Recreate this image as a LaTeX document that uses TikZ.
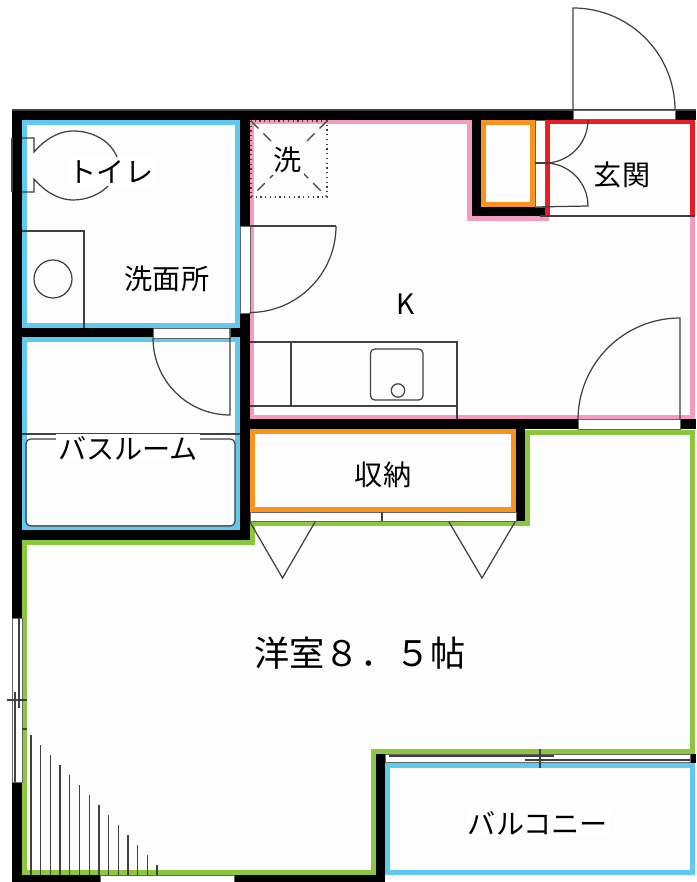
\documentclass[tikz,border=0pt]{standalone}
\usepackage{fontspec}
\setmainfont{Noto Sans CJK JP}
\definecolor{bathblue}{HTML}{62C9EE}
\definecolor{kitpink}{HTML}{F29DC0}
\definecolor{storeorange}{HTML}{F7941E}
\definecolor{entryred}{HTML}{ED1C24}
\definecolor{roomgreen}{HTML}{8CC63F}
\definecolor{floorwhite}{HTML}{FDFDFD}
\tikzset{
	wall/.style={fill=black},
	rim/.style={line width=1.35pt, miter limit=10},
	thinline/.style={draw=black!75, line width=.35pt},
	gap/.style={fill=white, draw=black!60, line width=.25pt},
	roomlabel/.style={font=\fontsize{8}{9}\selectfont, inner sep=.6pt},
	masklabel/.style={roomlabel, fill=white},
}
\begin{document}
\begin{tikzpicture}[x=.01cm, y=-.01cm]
		\useasboundingbox (0,0) rectangle (696,882);
		
		%floors
		\fill[floorwhite] (22,120) rectangle (696,875);
		
		%walls
		\fill[wall] (12,110) rectangle (696,120);
		\fill[wall] (12,110) rectangle (22,882);
		\fill[wall] (240,120) rectangle (250,540);
		\fill[wall] (22,328) rectangle (240,338);
		\fill[wall] (22,530) rectangle (250,540);
		\fill[wall] (250,419) rectangle (696,429);
		\fill[wall] (472,120) rectangle (481,216);
		\fill[wall] (472,207) rectangle (545,216);
		\fill[wall] (516,429) rectangle (525,521);
		\fill[wall] (376,754) rectangle (385,882);
		\fill[wall] (12,875) rectangle (385,882);
		\fill[wall] (690,754) rectangle (696,763);
		\draw[thinline] (12,110) -- (696,110);
		\draw[thinline] (12,138) -- (12,192);
		
		%room rims
		\draw[rim, kitpink] (692.5,216) -- (692.5,417) -- (252,417) -- (252,122) -- (469.5,122) -- (469.5,218.5) -- (549,218.5);
		\draw[rim, bathblue] (24.2,122.2) rectangle (237.8,325.8);
		\draw[rim, bathblue] (24.2,339.5) rectangle (237.8,527.8);
		\draw[rim, bathblue] (387.2,765.2) rectangle (692.8,872.5);
		\draw[rim, storeorange] (483.2,122.2) rectangle (532.8,204.8);
		\draw[rim, storeorange] (252.2,431.2) rectangle (513.8,509.8);
		\draw[rim, entryred] (547.2,216) -- (547.2,122) -- (692.5,122) -- (692.5,216);
		\draw[rim, roomgreen] (24.4,875) -- (24.4,542.4) -- (252.4,542.4) -- (252.4,523.5) -- (527.5,523.5) -- (527.5,432.4) -- (692.5,432.4) -- (692.5,751.4) -- (373.5,751.4) -- (373.5,872.6) -- (24.4,872.6);
		
		%gaps
		\filldraw[gap] (573,110) rectangle (675,119);
		\filldraw[gap] (535,120) rectangle (545,207);
		\filldraw[gap] (240,226) rectangle (250,313);
		\filldraw[gap] (153,328) rectangle (230,338);
		\filldraw[gap] (578,419) rectangle (680,429);
		\filldraw[gap] (250,512) rectangle (516,521);
		\filldraw[gap] (12,618) rectangle (22,782);
		\filldraw[gap] (100,875) rectangle (234.5,882);
		\filldraw[gap] (385,754) rectangle (690,762);
		
		%doors
		\draw[thinline] (573,110) -- (573,8) arc (-90:0:102);
		\draw[thinline] (535,163) -- (548,163);
		\draw[thinline] (588,120) arc (0:90:43);
		\draw[thinline] (545,163) arc (-90:0:43) -- (535,207);
		\draw[thinline] (336,226) -- (250,226);
		\draw[thinline] (336,226) arc (0:90:86.5);
		\draw[thinline] (230,328) -- (230,415) arc (90:180:77);
		\draw[thinline] (680,419) -- (680,318) arc (-90:-180:102);
		
		%closet doors
		\draw[thinline] (382,512) -- (382,521);
		\draw[thinline] (250,522) -- (282.5,578) -- (315,522);
		\draw[thinline] (449,522) -- (482,578) -- (515,522);
		
		%toilet
		\draw[thinline] (22,138) -- (34,138) -- (34,152) .. controls (48,136) and (62,131) .. (73,131) .. controls (92,131) and (110,140) .. (117,157);
		\draw[thinline] (22,192) -- (34,192) -- (34,179) .. controls (48,195) and (62,200) .. (73,200) .. controls (86,200) and (100,195) .. (109,185);
		
		%washer
		\draw[thinline] (22,231) -- (84,231) -- (84,328);
		\draw[thinline] (53,279) circle (19);
		
		%laundry pan
		\draw[thinline, densely dotted] (251,121) rectangle (327,197);
		\draw[thinline, densely dashed] (251,121) -- (327,197);
		\draw[thinline, densely dashed] (327,121) -- (251,197);
		
		%kitchen
		\draw[thinline] (250,342) -- (457,342) -- (457,419);
		\draw[thinline] (250,406) -- (457,406);
		\draw[thinline] (291,342) -- (291,406);
		\draw[thinline, rounded corners=1.2pt] (370.5,349) rectangle (423,400);
		\draw[thinline] (398,390.5) circle (6.7);
		
		%bath
		\draw[thinline] (22,434) -- (240,434);
		\draw[thinline, rounded corners=1.3pt] (26,439) rectangle (235,526);
		
		%entry
		\draw[thinline] (540,216) -- (695,216);
		
		%window lines
		\draw[thinline] (389,756) -- (554,756);
		\draw[thinline] (525,760) -- (690,760);
		\draw[thinline] (540,749) -- (540,768);
		\draw[thinline] (19,618) -- (19,708);
		\draw[thinline] (15,692) -- (15,782);
		\draw[thinline] (7,700) -- (27,700);
		\draw[thinline] (22,729) -- (27,729);
		
		%stairs
		\foreach \i in {0,...,13}
			\draw[thinline] ({31+9.7*\i},{735+10*\i}) -- ({31+9.7*\i},875);
		
		%labels
		\node[masklabel] (toilet) at (111,172) {トイレ};
		\node[roomlabel] (basin) at (167,279) {洗面所};
		\node[masklabel] (laundry) at (288,160) {洗};
		\node[roomlabel] (entry) at (622,175) {玄関};
		\node[roomlabel] (kitchen) at (406,304) {K};
		\node[masklabel] (bath) at (128,448) {バスルーム};
		\node[roomlabel] (store) at (383,475) {収納};
		\node[masklabel] (balcony) at (538,823) {バルコニー};
		\node[roomlabel, font=\fontsize{10}{12}\selectfont] (western) at (360,653) {洋室８．５帖};
\end{tikzpicture}
\end{document}
